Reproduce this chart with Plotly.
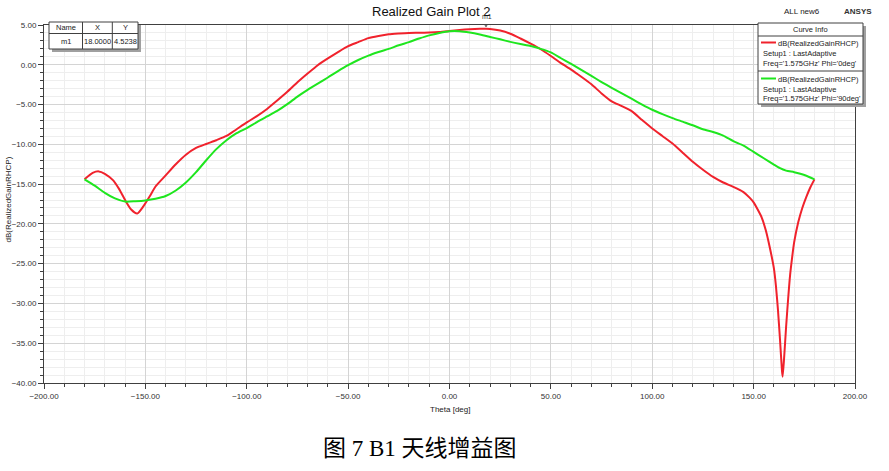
import plotly.graph_objects as go

# ---------------- data ----------------
theta_phi0 = [-180, -176, -173, -170, -166, -163, -160, -157, -154, -151, -148, -145, -140, -135, -130,
              -125, -120, -115, -110, -105, -100, -95, -90, -85, -80, -75, -70, -65, -60, -55, -50,
              -45, -40, -35, -30, -25, -20, -15, -10, -5, 0, 5, 10, 15, 18, 20, 25, 30, 35, 40, 45,
              50, 55, 60, 65, 70, 75, 80, 85, 90, 95, 100, 105, 110, 115, 120, 125, 130, 135, 140,
              145, 148, 150, 152, 154, 156, 158, 160, 161, 162, 163, 164, 164.3, 165, 166, 167, 168,
              169, 170, 172, 174, 176, 178, 180]
gain_phi0 = [-14.4, -13.6, -13.4, -13.7, -14.5, -15.6, -17.0, -18.2, -18.7, -17.8, -16.6, -15.3, -13.9, -12.5, -11.3,
             -10.45, -9.95, -9.48, -8.95, -8.1, -7.25, -6.45, -5.55, -4.5, -3.4, -2.2, -1.1, -0.05, 0.8, 1.6, 2.35,
             2.85, 3.35, 3.62, 3.83, 3.93, 4.0, 4.02, 4.05, 4.12, 4.25, 4.38, 4.47, 4.52, 4.5238, 4.5, 4.3, 3.9, 3.3, 2.65, 1.95,
             1.1, 0.2, -0.6, -1.5, -2.45, -3.6, -4.6, -5.2, -5.85, -6.95, -8.0, -8.95, -9.9, -11.05, -12.2, -13.2, -14.1, -14.8, -15.35,
             -16.0, -16.7, -17.3, -18.2, -19.2, -20.8, -23.0, -25.6, -27.8, -30.8, -34.5, -38.5, -39.2, -37.0, -33.0, -29.5, -26.4,
             -24.2, -22.3, -19.8, -18.0, -16.6, -15.4, -14.4]

theta_phi90 = [-180, -175, -170, -165, -160, -155, -150, -145, -140, -135, -130, -125, -120, -115, -110,
               -105, -100, -95, -90, -85, -80, -75, -70, -65, -60, -55, -50, -45, -40, -35, -30, -25,
               -20, -15, -10, -5, 0, 5, 10, 15, 20, 25, 30, 35, 40, 45, 50, 55, 60, 65, 70, 75, 80,
               85, 90, 95, 100, 105, 110, 115, 120, 125, 130, 135, 140, 145, 150, 155, 160, 163, 166,
               170, 173, 176, 180]
gain_phi90 = [-14.4, -15.2, -16.1, -16.8, -17.2, -17.15, -17.05, -16.85, -16.5, -15.8, -14.8, -13.5, -12.0, -10.6, -9.48,
              -8.6, -7.95, -7.2, -6.5, -5.8, -4.95, -4.0, -3.15, -2.37, -1.6, -0.8, -0.05, 0.6, 1.15, 1.6, 2.0, 2.45,
              2.85, 3.3, 3.7, 4.0, 4.22, 4.22, 4.05, 3.8, 3.5, 3.2, 2.88, 2.6, 2.35, 2.0, 1.55, 0.82, 0.1, -0.64, -1.4, -2.17, -2.9,
              -3.6, -4.3, -5.0, -5.65, -6.2, -6.7, -7.15, -7.6, -8.1, -8.45, -8.9, -9.6, -10.15, -10.95, -11.75, -12.55, -13.0, -13.3,
              -13.5, -13.7, -13.95, -14.4]

marker_name = "m1"
marker_x = 18.0000
marker_y = 4.5238

x_ticks = [-200, -150, -100, -50, 0, 50, 100, 150, 200]
y_ticks = [5, 0, -5, -10, -15, -20, -25, -30, -35, -40]

title_text = "Realized Gain Plot 2"
legend_lines_0 = ["dB(RealizedGainRHCP)", "Setup1 : LastAdaptive", "Freq='1.575GHz' Phi='0deg'"]
legend_lines_90 = ["dB(RealizedGainRHCP)", "Setup1 : LastAdaptive", "Freq='1.575GHz' Phi='90deg'"]
caption = "图 7 B1 天线增益图"

# ---------------- layout helpers ----------------
W, H = 889, 471
L, R, T, B = 44, 855, 25, 383  # plot area in pixels
RED = "#f0222c"
GREEN = "#1ee61e"
FONT = "Liberation Sans, Arial, sans-serif"


def px(x):
    return (x - L) / (R - L)


def py(y):
    return (B - y) / (B - T)


fig = go.Figure()
fig.add_trace(go.Scatter(x=theta_phi0, y=gain_phi0, mode="lines",
                         line=dict(color=RED, width=2, shape="spline", smoothing=0.6),
                         showlegend=False, hoverinfo="skip"))
fig.add_trace(go.Scatter(x=theta_phi90, y=gain_phi90, mode="lines",
                         line=dict(color=GREEN, width=2, shape="spline", smoothing=0.6),
                         showlegend=False, hoverinfo="skip"))

shapes = []
annotations = []

# marker triangle
shapes.append(dict(type="path", xref="x", yref="y", xsizemode="pixel", ysizemode="pixel",
                   xanchor=marker_x, yanchor=marker_y, path="M -3.5 8 L 3.5 8 L 0 2 Z",
                   fillcolor="#c8c8c8", line=dict(color="#555555", width=1)))
annotations.append(dict(x=marker_x, y=marker_y, xref="x", yref="y", text=marker_name, showarrow=False,
                        yshift=12, xshift=1, font=dict(family=FONT, size=7, color="#333333")))

# marker table
tx0, tx1, ty0, ty1 = 49, 138, 22, 49
shapes.append(dict(type="rect", xref="paper", yref="paper", x0=px(tx0 + 3), x1=px(tx1 + 3), y0=py(ty1 + 3), y1=py(ty0 + 3),
                   fillcolor="#a0a0a0", line=dict(width=0), layer="above"))
shapes.append(dict(type="rect", xref="paper", yref="paper", x0=px(tx0), x1=px(tx1), y0=py(ty1), y1=py(ty0),
                   fillcolor="white", line=dict(color="#404040", width=1), layer="above"))
for cx in (82.5, 112.3):
    shapes.append(dict(type="line", xref="paper", yref="paper", x0=px(cx), x1=px(cx), y0=py(ty1), y1=py(ty0),
                       line=dict(color="#404040", width=1), layer="above"))
shapes.append(dict(type="line", xref="paper", yref="paper", x0=px(tx0), x1=px(tx1), y0=py(33.5), y1=py(33.5),
                   line=dict(color="#404040", width=1), layer="above"))
table_cells = [("Name", 65.5, 28), ("X", 97.4, 28), ("Y", 125.2, 28),
               (marker_name, 65.5, 42), (f"{marker_x:.4f}", 97.4, 42), (f"{marker_y:.4f}", 125.2, 42)]
for txt, cx, cy in table_cells:
    annotations.append(dict(x=px(cx), y=py(cy), xref="paper", yref="paper", text=txt, showarrow=False,
                            xanchor="center", yanchor="middle", font=dict(family=FONT, size=7.5, color="#222222")))

# legend box
lx0, lx1, ly0, ly1 = 758, 863, 23, 104
shapes.append(dict(type="rect", xref="paper", yref="paper", x0=px(lx0 + 3), x1=px(lx1 + 3), y0=py(ly1 + 3), y1=py(ly0 + 3),
                   fillcolor="#a0a0a0", line=dict(width=0), layer="above"))
shapes.append(dict(type="rect", xref="paper", yref="paper", x0=px(lx0), x1=px(lx1), y0=py(ly1), y1=py(ly0),
                   fillcolor="white", line=dict(color="#404040", width=1), layer="above"))
for sy in (36, 71):
    shapes.append(dict(type="line", xref="paper", yref="paper", x0=px(lx0), x1=px(lx1), y0=py(sy), y1=py(sy),
                       line=dict(color="#404040", width=1), layer="above"))
annotations.append(dict(x=px(810), y=py(29.5), xref="paper", yref="paper", text="Curve Info", showarrow=False,
                        xanchor="center", yanchor="middle", font=dict(family=FONT, size=7.5, color="#222222")))
for (lines, col, base) in ((legend_lines_0, RED, 42.5), (legend_lines_90, GREEN, 78.5)):
    shapes.append(dict(type="line", xref="paper", yref="paper", x0=px(761), x1=px(776), y0=py(base), y1=py(base),
                       line=dict(color=col, width=2), layer="above"))
    annotations.append(dict(x=px(861), y=py(base + 0.5), xref="paper", yref="paper", text=lines[0], showarrow=False,
                            xanchor="right", yanchor="middle", font=dict(family=FONT, size=7.5, color="#222222")))
    annotations.append(dict(x=px(761), y=py(base + 10.5), xref="paper", yref="paper", text=lines[1], showarrow=False,
                            xanchor="left", yanchor="middle", font=dict(family=FONT, size=7.5, color="#222222")))
    annotations.append(dict(x=px(761), y=py(base + 20.5), xref="paper", yref="paper", text=lines[2], showarrow=False,
                            xanchor="left", yanchor="middle", font=dict(family=FONT, size=7.5, color="#222222")))

# titles / labels
annotations.append(dict(x=px(431), y=py(12), xref="paper", yref="paper", text=title_text, showarrow=False,
                        xanchor="center", yanchor="middle", font=dict(family=FONT, size=13, color="#111111")))
annotations.append(dict(x=px(822), y=py(12), xref="paper", yref="paper", text="ALL new6", showarrow=False,
                        xanchor="right", yanchor="middle", font=dict(family=FONT, size=8, color="#222222")))
annotations.append(dict(x=px(842), y=py(11.5), xref="paper", yref="paper", text="<b>ANSYS</b>", showarrow=False,
                        xanchor="left", yanchor="middle", font=dict(family=FONT, size=8, color="#333333")))
annotations.append(dict(x=px(450), y=py(409), xref="paper", yref="paper", text="Theta [deg]", showarrow=False,
                        xanchor="center", yanchor="middle", font=dict(family=FONT, size=8, color="#222222")))
annotations.append(dict(x=px(7.5), y=py(200), xref="paper", yref="paper", text="dB(RealizedGainRHCP)", showarrow=False,
                        textangle=-90, xanchor="center", yanchor="middle", font=dict(family=FONT, size=8, color="#222222")))
annotations.append(dict(x=px(420), y=py(448), xref="paper", yref="paper", text=caption, showarrow=False,
                        xanchor="center", yanchor="middle",
                        font=dict(family="Liberation Serif, Noto Sans CJK SC, serif", size=23, color="#000000")))

axis_common = dict(showline=True, linecolor="#404040", linewidth=1, mirror=True,
                   ticks="outside", tickcolor="#404040", ticklen=5,
                   tickfont=dict(family=FONT, size=8, color="#333333"),
                   gridcolor="#d4d4d4", gridwidth=1, zeroline=False, tickformat=".2f", automargin=False)

fig.update_layout(
    width=W, height=H,
    margin=dict(l=L, r=W - R, t=T, b=H - B, autoexpand=False),
    paper_bgcolor="white", plot_bgcolor="white",
    showlegend=False,
    xaxis=dict(range=[-200, 200], tickvals=x_ticks,
               minor=dict(dtick=10, showgrid=True, gridcolor="#eeeeee", ticks="outside", ticklen=3, tickcolor="#404040"),
               **axis_common),
    yaxis=dict(range=[-40, 5], tickvals=y_ticks,
               minor=dict(dtick=1, showgrid=True, gridcolor="#eeeeee", ticks="outside", ticklen=3, tickcolor="#404040"),
               **axis_common),
    shapes=shapes,
    annotations=annotations,
)

fig.write_html("out.html", config={"displayModeBar": False},
               post_script="document.body.style.margin='0px';")
